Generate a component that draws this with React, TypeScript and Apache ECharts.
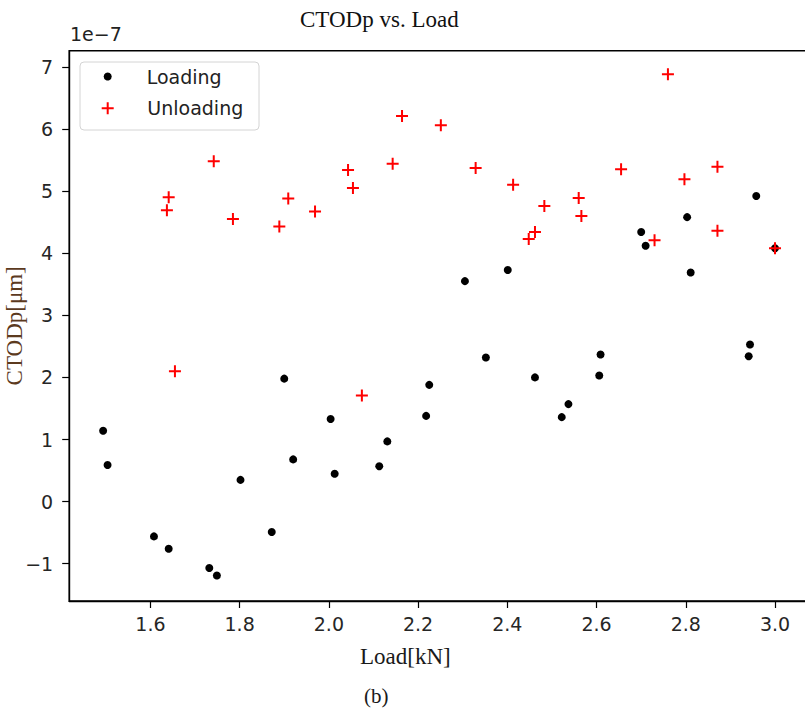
import React, { useEffect, useRef } from "react";
import * as echarts from "echarts";

// Loading series (Load [kN], CTODp in units of 1e-7)
const loadingLoad = [
  1.494, 1.504, 1.608, 1.641, 1.732, 1.749, 1.802, 1.872, 1.9, 1.92, 2.004, 2.013,
  2.113, 2.131, 2.218, 2.225, 2.305, 2.352, 2.401, 2.462, 2.522, 2.537, 2.606, 2.609,
  2.7, 2.71, 2.803, 2.811, 2.941, 2.944, 2.958, 3.0,
];
const loadingCtod = [
  1.14, 0.59, -0.56, -0.76, -1.07, -1.19, 0.35, -0.49, 1.98, 0.68, 1.33, 0.45,
  0.57, 0.97, 1.38, 1.88, 3.55, 2.32, 3.73, 2.0, 1.36, 1.57, 2.03, 2.37,
  4.34, 4.12, 4.58, 3.69, 2.34, 2.53, 4.92, 4.08,
];

// Unloading series
const unloadingLoad = [
  1.637, 1.641, 1.655, 1.742, 1.785, 1.889, 1.909, 1.969, 2.043, 2.054, 2.074, 2.143,
  2.164, 2.251, 2.329, 2.413, 2.448, 2.462, 2.483, 2.56, 2.566, 2.655, 2.73, 2.76,
  2.797, 2.871, 2.871, 3.0,
];
const unloadingCtod = [
  4.69, 4.9, 2.1, 5.48, 4.55, 4.43, 4.88, 4.67, 5.34, 5.05, 1.71, 5.44,
  6.21, 6.06, 5.37, 5.1, 4.23, 4.34, 4.76, 4.89, 4.6, 5.35, 4.21, 6.88,
  5.19, 5.39, 4.36, 4.08,
];

const xTicks = [1.6, 1.8, 2.0, 2.2, 2.4, 2.6, 2.8, 3.0];
const yTicks = [-1, 0, 1, 2, 3, 4, 5, 6, 7];

const PLUS = "path://M5,0H7V5H12V7H7V12H5V7H0V5H5Z";
const SANS = "'DejaVu Sans', sans-serif";
const SERIF = "'Liberation Serif', 'Times New Roman', serif";

export default function App() {
  const ref = useRef<HTMLDivElement>(null);
  useEffect(() => {
    if (!ref.current) return;
    const chart = echarts.init(ref.current, null, { renderer: "svg" });
    const loading = loadingLoad.map((x, i) => [x, loadingCtod[i]]);
    const unloading = unloadingLoad.map((x, i) => [x, unloadingCtod[i]]);
    chart.setOption({
      animation: false,
      backgroundColor: "#ffffff",
      title: [
        {
          text: "CTODp vs. Load",
          left: 300,
          top: 8,
          padding: 0,
          textStyle: { fontFamily: SERIF, fontSize: 23, fontWeight: "normal", color: "#111" },
        },
        {
          text: "(b)",
          left: 364,
          top: 685,
          padding: 0,
          textStyle: { fontFamily: SERIF, fontSize: 21, fontWeight: "normal", color: "#1a1a1a" },
        },
      ],
      graphic: [
        {
          type: "rect",
          z: 3,
          shape: { x: 80, y: 62, width: 179, height: 68, r: 4 },
          style: { fill: "rgba(255,255,255,0.85)", stroke: "#d4d4d4", lineWidth: 1 },
        },
        {
          type: "text",
          x: 70,
          y: 34,
          style: {
            text: "1e\u22127",
            font: `19px ${SANS}`,
            fill: "#222",
            verticalAlign: "middle",
          },
        },
      ],
      legend: [
        {
          data: [{ name: "Loading", icon: "circle" }],
          left: 103.7,
          top: 67,
          padding: 0,
          itemWidth: 8,
          itemHeight: 8,
          textStyle: { fontFamily: SANS, fontSize: 19, color: "#222", padding: [0, 0, 0, 30] },
        },
        {
          data: [{ name: "Unloading", icon: PLUS }],
          left: 101.7,
          top: 98.8,
          padding: 0,
          itemWidth: 12,
          itemHeight: 12,
          textStyle: { fontFamily: SANS, fontSize: 19, color: "#222", padding: [0, 0, 0, 28.6] },
        },
      ],
      grid: {
        left: 69.2,
        top: 50.7,
        width: 739.4,
        height: 550.3,
        show: true,
        borderColor: "#000",
        borderWidth: 1.4,
        containLabel: false,
        outerBoundsMode: "none",
      },
      xAxis: {
        type: "value",
        min: 1.418,
        max: 3.0753,
        name: "Load[kN]",
        nameLocation: "middle",
        nameGap: 44,
        nameMoveOverlap: false,
        nameTextStyle: {
          fontFamily: SERIF,
          fontSize: 23,
          color: "#1a1a1a",
          padding: [0, 67, 0, 0],
        },
        axisLine: { onZero: false, lineStyle: { color: "#000", width: 1.4 } },
        axisTick: { length: 7, customValues: xTicks, lineStyle: { color: "#000", width: 1.2 } },
        axisLabel: {
          customValues: xTicks,
          margin: 13,
          fontFamily: SANS,
          fontSize: 19,
          color: "#262626",
          formatter: (v: number) => v.toFixed(1),
        },
        splitLine: { show: false },
      },
      yAxis: {
        type: "value",
        min: -1.6,
        max: 7.26,
        name: "CTODp[\u03bcm]",
        nameLocation: "middle",
        nameGap: 43,
        nameMoveOverlap: false,
        nameTextStyle: { fontFamily: SERIF, fontSize: 23, color: "#5c3a1e" },
        axisLine: { onZero: false, lineStyle: { color: "#000", width: 1.4 } },
        axisTick: { length: 7, customValues: yTicks, lineStyle: { color: "#000", width: 1.2 } },
        axisLabel: {
          customValues: yTicks,
          margin: 16,
          fontFamily: SANS,
          fontSize: 19,
          color: "#262626",
          formatter: (v: number) => (v < 0 ? "\u2212" + Math.abs(v) : String(v)),
        },
        splitLine: { show: false },
      },
      series: [
        {
          name: "Loading",
          type: "scatter",
          symbol: "circle",
          symbolSize: 8,
          itemStyle: { color: "#000000", opacity: 1 },
          data: loading,
        },
        {
          name: "Unloading",
          type: "scatter",
          symbol: PLUS,
          symbolSize: 12,
          itemStyle: { color: "#ff0000", opacity: 1 },
          data: unloading,
        },
      ],
    });
    return () => chart.dispose();
  }, []);
  return (
    <div
      ref={ref}
      style={{ position: "absolute", left: 0, top: 0, width: 805, height: 711 }}
    />
  );
}
